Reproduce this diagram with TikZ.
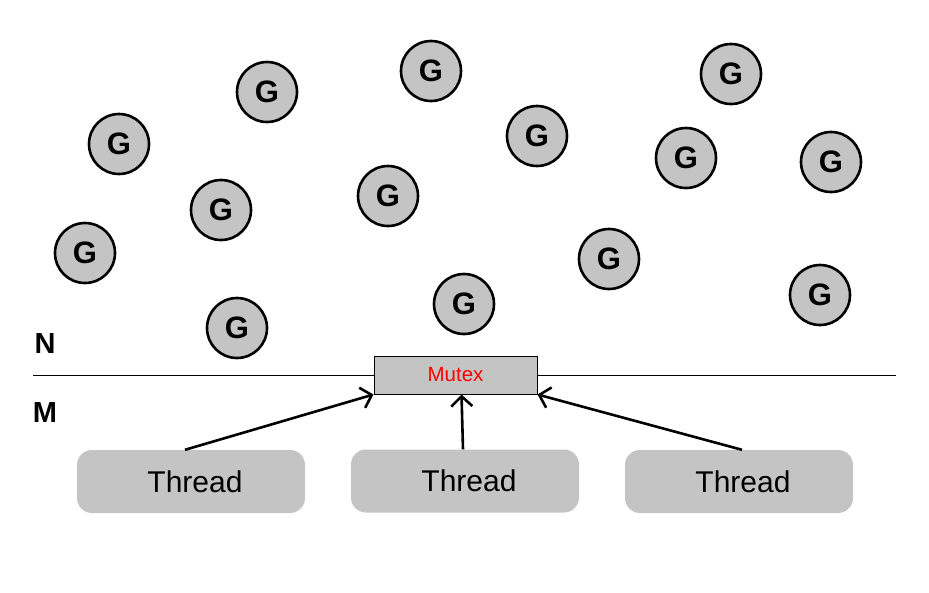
\documentclass[tikz,border=0pt]{standalone}
\usepackage{fontspec}
\setmainfont{Liberation Sans}
\usetikzlibrary{arrows.meta}
\definecolor{gfill}{HTML}{C4C4C4}
\begin{document}
\begin{tikzpicture}[x=1pt,y=-1pt,
  gor/.style={circle,draw=black,line width=2.6pt,fill=gfill,minimum size=60pt,inner sep=0pt,font=\fontsize{31}{31}\selectfont\bfseries},
  thr/.style={rounded corners=15pt,fill=gfill,minimum width=228pt,minimum height=63pt,inner sep=0pt,font=\fontsize{30}{30}\selectfont},
  lbl/.style={font=\fontsize{29}{29}\selectfont\bfseries,inner sep=0pt},
  arr/.style={line width=2.6pt,-{Straight Barb[length=10pt,width=21pt,line width=2.6pt]}}]
\useasboundingbox (0,0) rectangle (929,592);
\fill[white] (0,0) rectangle (929,592);
\node[gor] (g1) at (267,92) {G};
\node[gor] (g2) at (431,71) {G};
\node[gor] (g3) at (731,74) {G};
\node[gor] (g4) at (119,144) {G};
\node[gor] (g5) at (537,136) {G};
\node[gor] (g6) at (686,158) {G};
\node[gor] (g7) at (831,162) {G};
\node[gor] (g8) at (221,210) {G};
\node[gor] (g9) at (388,196) {G};
\node[gor] (g10) at (85,253) {G};
\node[gor] (g11) at (609,259) {G};
\node[gor] (g12) at (464,304) {G};
\node[gor] (g13) at (237,328) {G};
\node[gor] (g14) at (820,295) {G};
\coordinate (la) at (33,375);
\coordinate (lb) at (896,375);
\draw[line width=1pt] (la) -- (lb);
\node[lbl] (n) at (45,344) {N};
\node[lbl] (m) at (45,413) {M};
\node[draw=black,line width=1pt,fill=gfill,minimum width=163pt,minimum height=38pt,inner sep=0pt,font=\fontsize{20.5}{20.5}\selectfont,text=red] (mutex) at (455.5,375) {Mutex};
\node[thr] (t1) at (191,481.5) {\hspace*{8pt}Thread};
\node[thr] (t2) at (465,481) {\hspace*{8pt}Thread};
\node[thr] (t3) at (739,481.5) {\hspace*{8pt}Thread};
\draw[arr] ([xshift=-6pt]t1.north) -- (mutex.south west);
\draw[arr] ([xshift=-2pt]t2.north) -- ([xshift=6pt]mutex.south);
\draw[arr] ([xshift=3pt]t3.north) -- (mutex.south east);
\end{tikzpicture}
\end{document}
